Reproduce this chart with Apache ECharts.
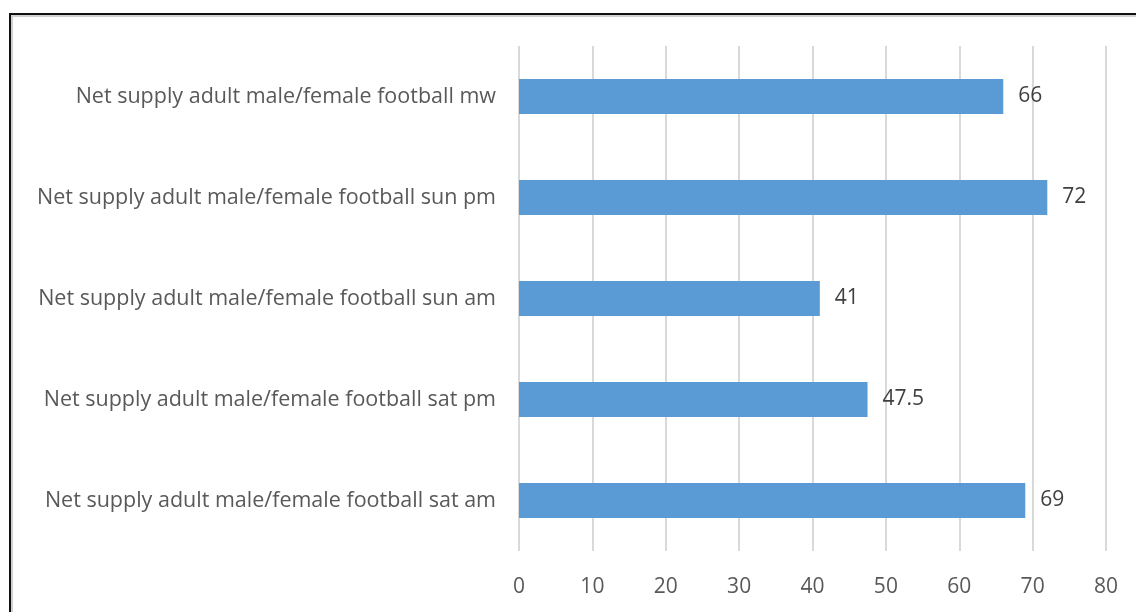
<!DOCTYPE html>
<html>
<head>
<meta charset="utf-8">
<script src="https://cdn.jsdelivr.net/npm/echarts@6/dist/echarts.min.js"></script>
<style>
  html, body { margin: 0; padding: 0; background: #fff; }
  #chart { width: 1136px; height: 612px; }
</style>
</head>
<body>
<div id="chart"></div>
<script>
const categories = [
  "Net supply adult male/female football sat am",
  "Net supply adult male/female football sat pm",
  "Net supply adult male/female football sun am",
  "Net supply adult male/female football sun pm",
  "Net supply adult male/female football mw",
];
const values = [69, 47.5, 41, 72, 66];
const axisTicks = [0, 80, 10];

const chart = echarts.init(document.getElementById("chart"));
const font = "'Open Sans', 'Noto Sans', sans-serif";

const option = {
  animation: false,
  textStyle: { fontFamily: font },
  graphic: [
    {
      type: "rect",
      shape: { x: 10, y: 14, width: 1140, height: 620 },
      style: { fill: "none", stroke: "#111", lineWidth: 2 },
    },
    {
      type: "polyline",
      shape: { points: [[12, 640], [12, 16], [1140, 16]] },
      style: { fill: "none", stroke: "#d0d0d0", lineWidth: 2 },
    },
  ],
  grid: {
    left: 519,
    right: 30,
    top: 46,
    bottom: 61,
  },
  xAxis: {
    type: "value",
    min: axisTicks[0],
    max: axisTicks[1],
    interval: axisTicks[2],
    axisLine: { show: false },
    axisTick: { show: false },
    axisLabel: {
      color: "#595959",
      fontSize: 21,
      margin: 26,
      fontFamily: font,
    },
    splitLine: {
      show: true,
      lineStyle: { color: "#d9d9d9", width: 2 },
    },
  },
  yAxis: {
    type: "category",
    data: categories,
    axisLine: { show: false },
    axisTick: { show: false },
    axisLabel: {
      color: "#595959",
      fontSize: 21.5,
      margin: 23,
      fontFamily: font,
    },
  },
  series: [
    {
      type: "bar",
      data: values,
      barWidth: 35,
      itemStyle: { color: "#5b9bd5" },
      label: {
        show: true,
        position: "right",
        distance: 15,
        color: "#404040",
        fontSize: 21,
        fontFamily: font,
      },
    },
  ],
};

chart.setOption(option);
</script>
</body>
</html>
